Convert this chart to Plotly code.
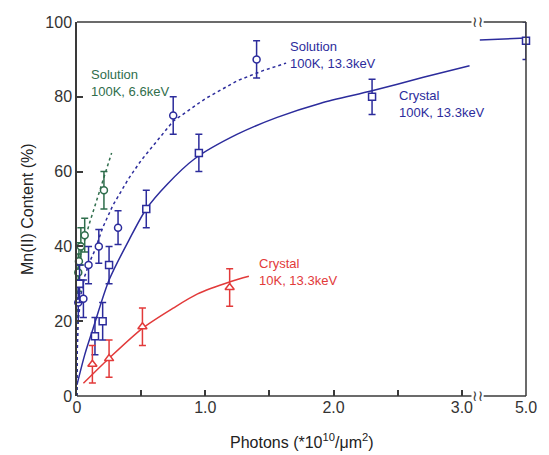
import plotly.graph_objects as go

# ---------------- data ----------------
# Solution, 100K, 6.6 keV (green circles)
sol66_x = [0.01, 0.015, 0.03, 0.06, 0.21]
sol66_y = [33, 36, 40, 43, 55]
sol66_err = [5, 5, 5, 4.5, 5]
sol66_fit_x = [0, 0.002, 0.01, 0.05, 0.1, 0.15, 0.2, 0.27]
sol66_fit_y = [0, 25, 35, 40.5, 46.5, 52, 57.5, 65]

# Solution, 100K, 13.3 keV (blue circles)
sol133_x = [0.01, 0.05, 0.09, 0.17, 0.32, 0.75, 1.4]
sol133_y = [25, 26, 35, 40, 45, 75, 90]
sol133_err = [5, 5, 5, 4.5, 4.5, 5, 5]
sol133_fit_x = [0, 0.002, 0.01, 0.03, 0.06, 0.1, 0.14, 0.2, 0.28, 0.4, 0.5, 0.75, 1.0, 1.25, 1.45, 1.63]
sol133_fit_y = [0, 12, 20, 27, 32, 36, 39, 45, 51, 58, 63, 73.5, 79.5, 84.3, 87, 89]

# Crystal, 100K, 13.3 keV (blue squares)
cry100_x = [0.02, 0.14, 0.2, 0.25, 0.54, 0.95, 2.3, 5.0]
cry100_y = [30, 16, 20, 35, 50, 65, 80, 95]
cry100_err = [5, 5, 5, 5, 5, 5, 4.7, 5]
cry100_fit_x = [0, 0.06, 0.125, 0.25, 0.41, 0.54, 0.7, 0.92, 1.25, 1.56, 1.9, 2.3, 2.7, 3.06]
cry100_fit_y = [3, 11, 18, 31, 42, 50, 56.5, 63.5, 70, 74.5, 78.3, 81.6, 85.2, 88.3]
cry100_tail_x = [4.0, 5.0]
cry100_tail_y = [95.2, 95.7]

# Crystal, 10K, 13.3 keV (red triangles)
cry10_x = [0.12, 0.25, 0.51, 1.19]
cry10_y = [8.5, 10, 18.5, 29]
cry10_err = [5, 5, 5, 5]
cry10_fit_x = [0.05, 0.25, 0.51, 0.75, 0.94, 1.2, 1.34]
cry10_fit_y = [3.4, 10.1, 18.1, 23.5, 27.3, 30.6, 32]

x_tickvals_real = [0, 1.0, 2.0, 3.0, 5.0]
x_ticktext = ["0", "1.0", "2.0", "3.0", "5.0"]
y_tickvals = [0, 20, 40, 60, 80, 100]

# ---------------- broken axis mapping ----------------
X_MAX = 3.5
def to_axis(x):
    return x if x <= 3.1 else X_MAX - (5.0 - x) * 0.36

def tx(xs):
    return [to_axis(v) for v in xs]

GREEN = "#2f6e4c"
BLUE = "#2c2c9c"
RED = "#e23a3a"
AX = "#3a3a3a"

fig = go.Figure()

def fit(xs, ys, color, dash, shape="spline"):
    fig.add_trace(go.Scatter(x=tx(xs), y=ys, mode="lines",
                             line=dict(color=color, width=1.5, dash=dash, shape=shape, smoothing=0.8),
                             cliponaxis=False, showlegend=False, hoverinfo="skip"))

def pts(xs, ys, errs, color, symbol, size):
    fig.add_trace(go.Scatter(x=tx(xs), y=ys, mode="markers",
                             marker=dict(symbol=symbol, size=size, color="white",
                                         line=dict(color=color, width=1.5)),
                             error_y=dict(type="data", array=errs, color=color, thickness=1.5, width=3.5),
                             cliponaxis=False, showlegend=False))

fit(sol66_fit_x, sol66_fit_y, GREEN, "dot", "linear")
fit(sol133_fit_x, sol133_fit_y, BLUE, "dot", "linear")
fit(cry100_fit_x, cry100_fit_y, BLUE, "solid")
fit(cry100_tail_x, cry100_tail_y, BLUE, "solid", "linear")
fit(cry10_fit_x, cry10_fit_y, RED, "solid")

pts(sol66_x, sol66_y, sol66_err, GREEN, "circle", 7)
pts(sol133_x, sol133_y, sol133_err, BLUE, "circle", 7)
pts(cry100_x, cry100_y, cry100_err, BLUE, "square", 7)
pts(cry10_x, cry10_y, cry10_err, RED, "triangle-up", 8)

# frame with break (paper coordinates so nothing is clipped)
shapes = []
lw = dict(color=AX, width=1.5)
for (x0, x1) in [(0, 3.075), (3.17, X_MAX)]:
    for yy in (0, 1):
        shapes.append(dict(type="line", xref="paper", yref="paper",
                           x0=x0 / X_MAX, x1=x1 / X_MAX, y0=yy, y1=yy, line=lw))
shapes.append(dict(type="line", xref="paper", yref="paper", x0=1, x1=1, y0=0, y1=1, line=lw))

annotations = []
for yy in [0, 1]:
    annotations.append(dict(x=3.122 / X_MAX, y=yy, xref="paper", yref="paper", text="≀≀", showarrow=False,
                            font=dict(size=15, color=AX, family="DejaVu Sans"),
                            xanchor="center", yanchor="middle"))

lab_font = "Liberation Sans, Arial, sans-serif"
def label(x, y, text, color):
    annotations.append(dict(x=x, y=y, xref="x", yref="y", text=text, showarrow=False,
                            align="left", xanchor="left", yanchor="middle",
                            font=dict(size=13, color=color, family=lab_font)))

label(0.092, 83.6, "Solution<br>100K, 6.6keV", GREEN)
label(1.645, 91.2, "Solution<br>100K, 13.3keV", BLUE)
label(2.496, 78.0, "Crystal<br>100K, 13.3keV", BLUE)
label(1.40, 33.2, "Crystal<br>10K, 13.3keV", RED)

annotations.append(dict(x=0, y=0.5, xref="paper", yref="paper", xshift=-50, text="Mn(II) Content (%)",
                        textangle=-90, showarrow=False, xanchor="center", yanchor="middle",
                        font=dict(size=16, color="#222", family=lab_font)))
annotations.append(dict(x=0.5, y=0, xref="paper", yref="paper", yshift=-45,
                        text="Photons (*10<sup>10</sup>/μm<sup>2</sup>)",
                        showarrow=False, xanchor="center", yanchor="middle",
                        font=dict(size=16, color="#222", family=lab_font)))

fig.update_layout(
    width=549, height=455,
    margin=dict(l=77, r=16, t=22, b=59),
    paper_bgcolor="white", plot_bgcolor="white",
    shapes=shapes, annotations=annotations,
    xaxis=dict(range=[0, X_MAX], tickvals=tx(x_tickvals_real), ticktext=x_ticktext,
               ticks="inside", ticklen=6, tickwidth=1.5, tickcolor=AX,
               minor=dict(tickmode="linear", tick0=0.5, dtick=1, ticks="inside",
                          ticklen=6, tickwidth=1.5, tickcolor=AX, showgrid=False),
               showline=False, showgrid=False, zeroline=False,
               tickfont=dict(size=16, color="#333", family=lab_font)),
    yaxis=dict(range=[0, 100], tickvals=y_tickvals,
               ticks="inside", ticklen=6, tickwidth=1.5, tickcolor=AX,
               showline=True, linecolor=AX, linewidth=1.5,
               showgrid=False, zeroline=False,
               tickfont=dict(size=16, color="#333", family=lab_font)),
)

fig.write_html("out.html", config={"displayModeBar": False},
               post_script="document.body.style.margin='0';document.body.style.overflow='hidden';")
